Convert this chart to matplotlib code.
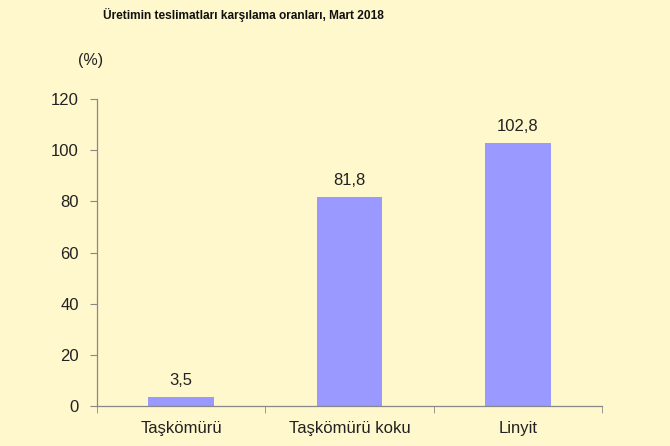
import matplotlib
matplotlib.use("Agg")
import matplotlib.pyplot as plt
import numpy as np

categories = ["Taşkömürü", "Taşkömürü koku", "Linyit"]
values = [3.5, 81.8, 102.8]
labels = ["3,5", "81,8", "102,8"]
yticks = [0, 20, 40, 60, 80, 100, 120]

plt.rcParams['font.family'] = ['Liberation Sans', 'DejaVu Sans']
bg = "#FFF8CC"
fig = plt.figure(figsize=(6.7, 4.46), dpi=100, facecolor=bg)
ax = fig.add_axes([0.1448, 0.0897, 0.7537, 0.688])
ax.set_facecolor(bg)

x = np.arange(len(categories))
ax.bar(x, values, width=0.39, color="#9999FF", edgecolor="none")
for xi, v, l in zip(x, values, labels):
    ax.text(xi, v + 3.5, l, ha="center", va="bottom", fontsize=12, color="#222222")

ax.set_xlim(-0.5, 2.5)
ax.set_ylim(0, 120)
ax.set_yticks(yticks)
ax.set_yticklabels([str(t) for t in yticks], fontsize=12, color="#222222")
ax.set_xticks(x)
ax.set_xticklabels(categories, fontsize=12, color="#222222")
ax.tick_params(axis="x", length=0, pad=11)
ax.set_xticks([-0.5, 0.5, 1.5, 2.5], minor=True)
ax.tick_params(axis="x", which="minor", length=5, color="#888888", direction="out")
ax.tick_params(axis="y", length=5, color="#888888", pad=8)
for s in ["top", "right"]:
    ax.spines[s].set_visible(False)
for s in ["left", "bottom"]:
    ax.spines[s].set_color("#888888")
    ax.spines[s].set_linewidth(0.9)

fig.text(0.154, 0.967, "Üretimin teslimatları karşılama oranları, Mart 2018",
         fontsize=8.6, fontweight="bold", ha="left", va="center", color="#111111")
fig.text(0.116, 0.865, "(%)", fontsize=11.5, ha="left", va="center", color="#222222")

fig.savefig("out.png", dpi=100, facecolor=bg)
